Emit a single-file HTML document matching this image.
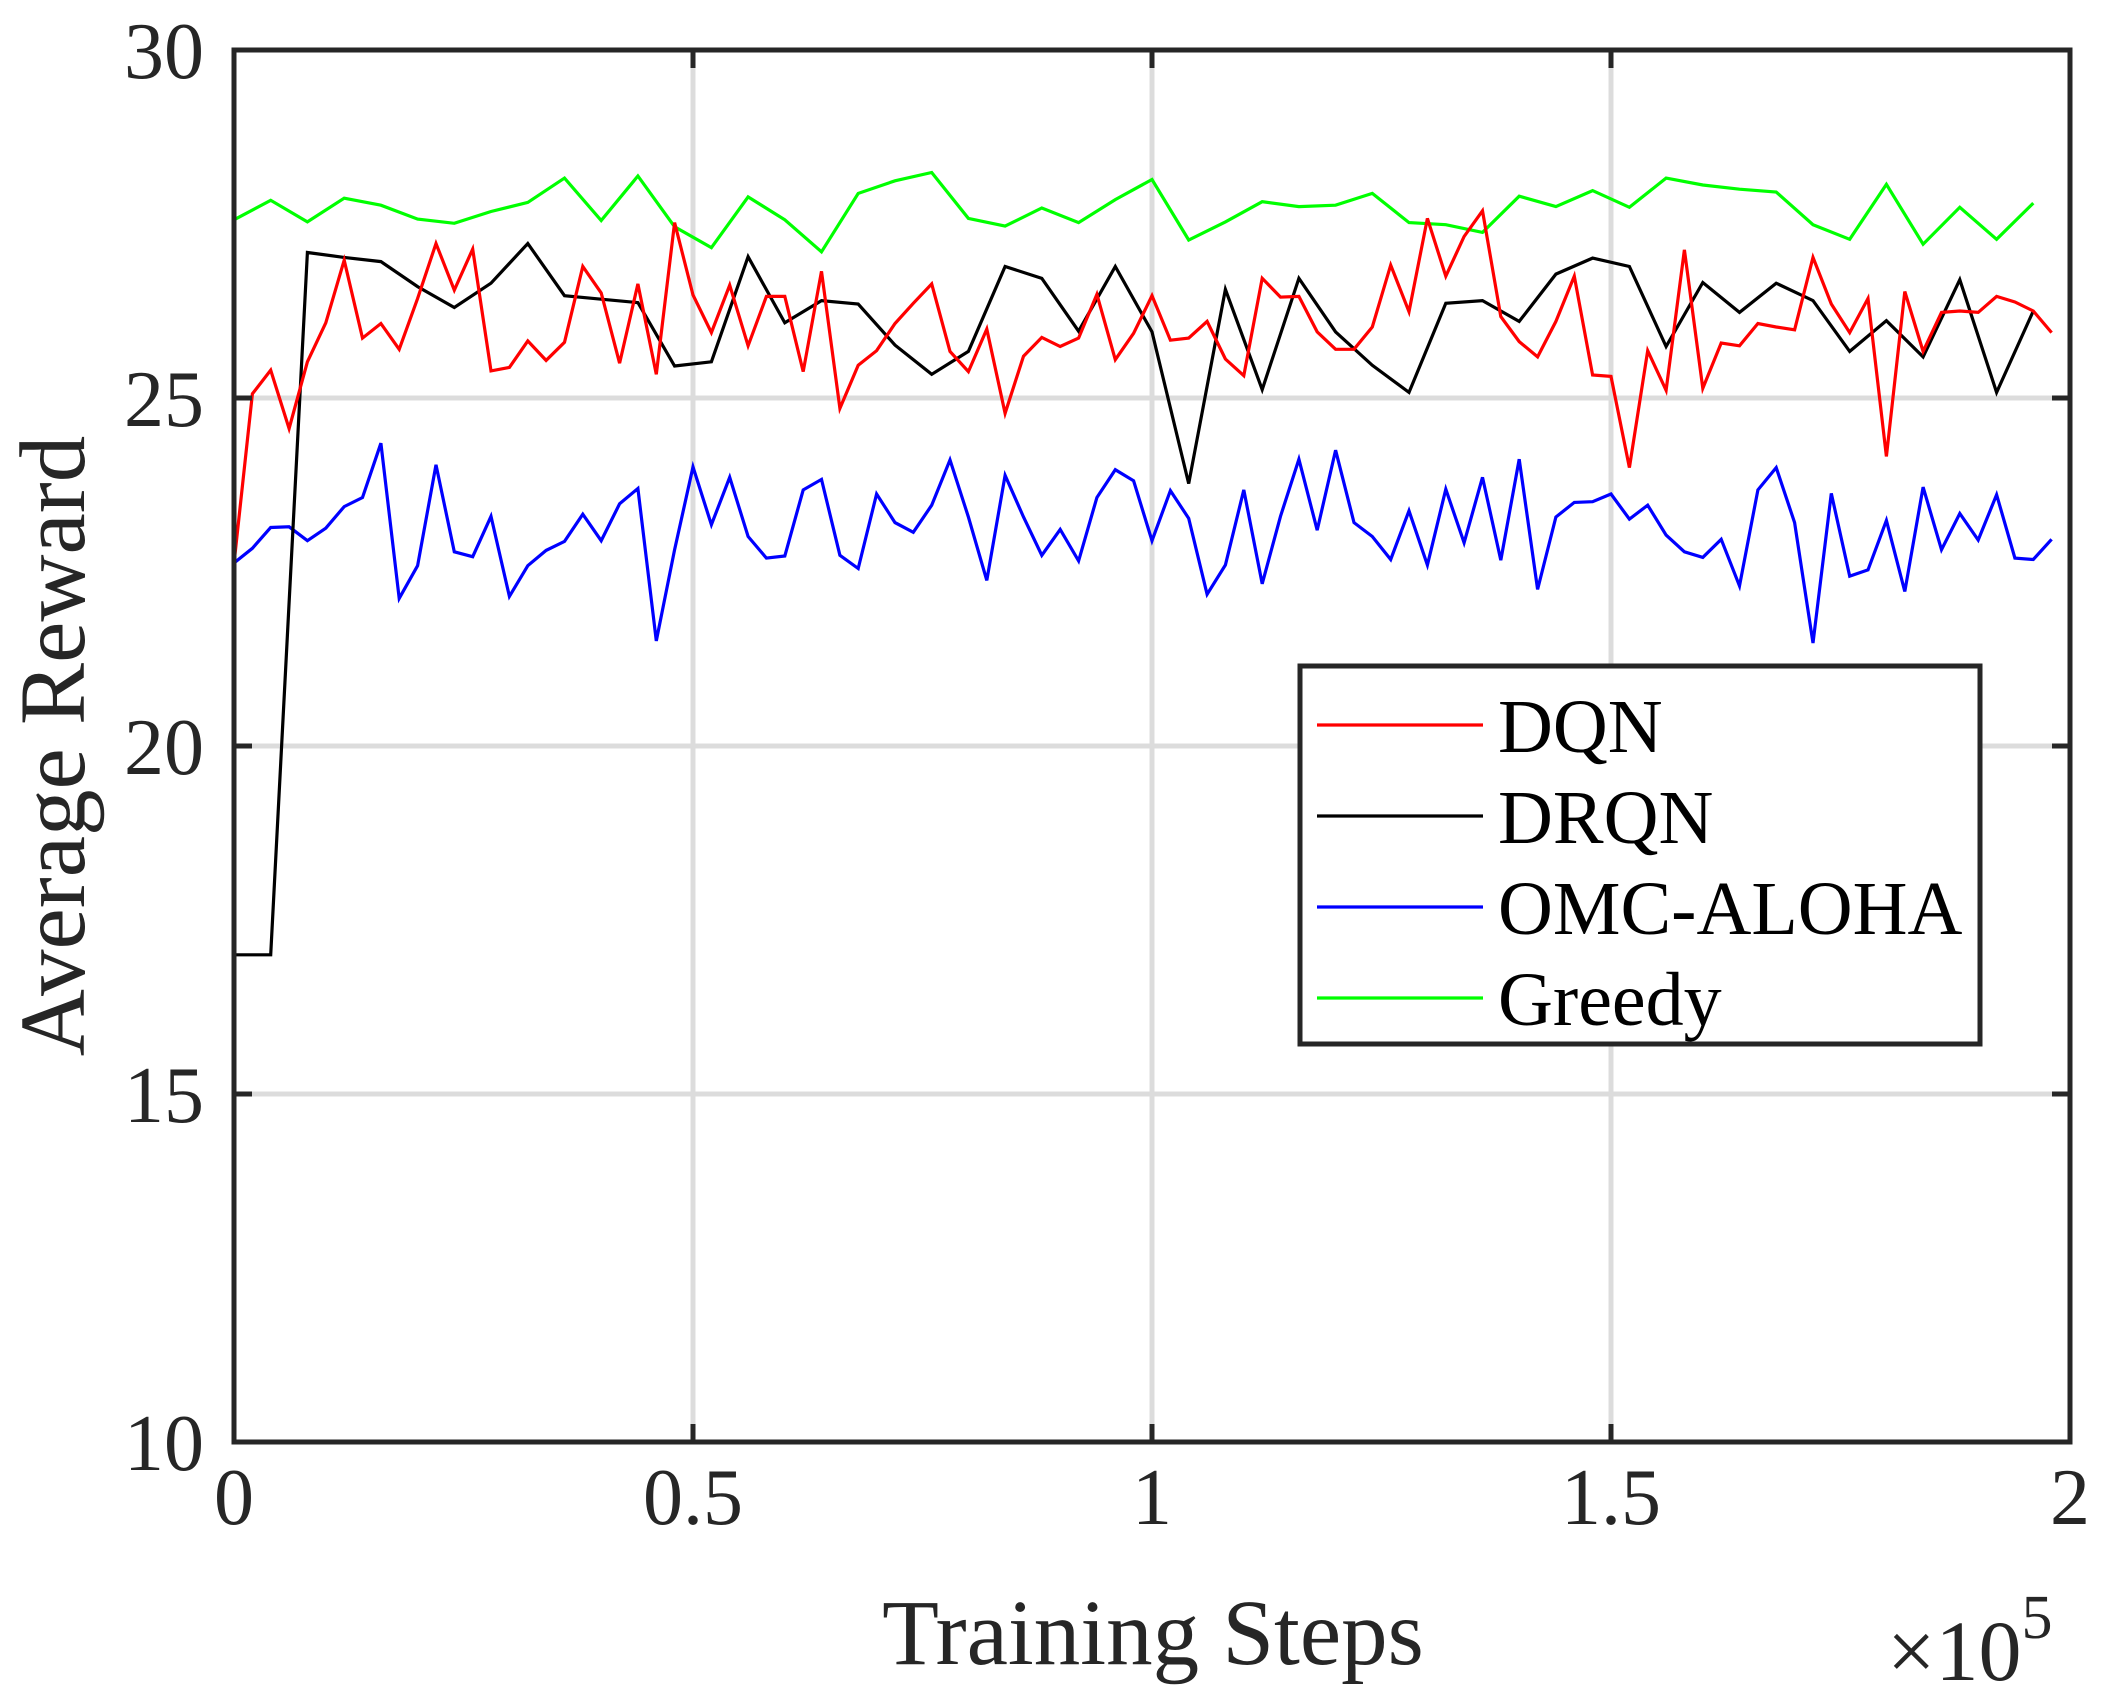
<!DOCTYPE html>
<html><head><meta charset="utf-8"><style>
html,body{margin:0;padding:0;background:#fff;}
svg{display:block;font-family:"Liberation Serif",serif;}
</style></head><body>
<svg id="chart" width="2114" height="1708" viewBox="0 0 2114 1708" xmlns="http://www.w3.org/2000/svg">
<rect width="2114" height="1708" fill="#fff"/>
<g id="grid"></g>
<g id="series"></g>
<g id="axes"></g>
<text x="1153" y="1664" font-size="93" text-anchor="middle" fill="#262626">Training Steps</text>
<text x="1887" y="1680" font-size="86" fill="#262626">×10<tspan dy="-42" font-size="62">5</tspan></text>
<text transform="translate(84,746) rotate(-90)" font-size="93" text-anchor="middle" fill="#262626">Average Reward</text>
<g id="legend"></g>
</svg>
<script>
const yTicks=[10,15,20,25,30];
const xTicks=[0,0.5,1,1.5,2];
const xTickLabels=["0","0.5","1","1.5","2"];
const stepFine=0.02;
const stepCoarse=0.04;
const dqn=[22.62,25.06,25.40,24.56,25.52,26.08,26.98,25.86,26.07,25.70,26.43,27.22,26.55,27.14,25.39,25.44,25.82,25.54,25.80,26.89,26.51,25.50,26.64,25.34,27.52,26.48,25.94,26.62,25.75,26.46,26.46,25.38,26.82,24.85,25.47,25.68,26.07,26.36,26.64,25.67,25.38,25.99,24.78,25.60,25.87,25.74,25.86,26.49,25.55,25.93,26.47,25.83,25.86,26.10,25.56,25.32,26.72,26.45,26.46,25.95,25.70,25.70,26.02,26.91,26.24,27.58,26.75,27.32,27.69,26.17,25.81,25.59,26.10,26.75,25.33,25.31,24.00,25.68,25.11,27.13,25.14,25.79,25.75,26.07,26.02,25.98,27.02,26.35,25.94,26.43,24.16,26.53,25.67,26.23,26.25,26.23,26.46,26.38,26.25,25.94];
const omc=[22.63,22.84,23.14,23.15,22.95,23.13,23.44,23.57,24.35,22.12,22.59,24.04,22.79,22.72,23.30,22.15,22.59,22.81,22.94,23.33,22.95,23.48,23.70,21.51,22.82,24.01,23.18,23.86,23.01,22.70,22.73,23.68,23.83,22.74,22.55,23.62,23.21,23.07,23.46,24.11,23.29,22.38,23.89,23.29,22.74,23.11,22.66,23.57,23.97,23.81,22.95,23.67,23.27,22.18,22.60,23.68,22.33,23.30,24.12,23.10,24.25,23.21,23.01,22.68,23.38,22.60,23.69,22.92,23.86,22.67,24.12,22.25,23.29,23.50,23.51,23.62,23.26,23.46,23.03,22.79,22.71,22.97,22.30,23.68,24.00,23.21,21.48,23.63,22.44,22.53,23.24,22.22,23.72,22.82,23.34,22.96,23.61,22.70,22.68,22.97];
const drqn=[17,17,27.09,27.02,26.96,26.60,26.30,26.65,27.22,26.47,26.42,26.37,25.46,25.52,27.03,26.08,26.40,26.35,25.76,25.34,25.67,26.89,26.72,25.96,26.89,25.95,23.77,26.56,25.12,26.72,25.95,25.47,25.08,26.36,26.40,26.10,26.78,27.01,26.89,25.74,26.66,26.23,26.65,26.40,25.67,26.11,25.59,26.70,25.08,26.25];
const greedy=[27.56,27.84,27.53,27.87,27.77,27.57,27.51,27.68,27.81,28.16,27.55,28.19,27.46,27.16,27.89,27.56,27.10,27.94,28.12,28.24,27.58,27.47,27.73,27.52,27.85,28.14,27.27,27.53,27.82,27.75,27.77,27.94,27.52,27.49,27.38,27.90,27.75,27.98,27.74,28.16,28.06,28.00,27.96,27.49,27.28,28.07,27.21,27.74,27.28,27.80];
const legendNames=["DQN","DRQN","OMC-ALOHA","Greedy"];

const L=234,R=2070,T=50,B=1442;
const sx=v=>L+(v-0)/(2-0)*(R-L);
const sy=v=>B-(v-10)/(30-10)*(B-T);
const NS="http://www.w3.org/2000/svg";
function mk(tag,attrs,parent){const e=document.createElementNS(NS,tag);for(const k in attrs)e.setAttribute(k,attrs[k]);parent.appendChild(e);return e;}
const grid=document.getElementById('grid'),axes=document.getElementById('axes'),ser=document.getElementById('series'),leg=document.getElementById('legend');
xTicks.forEach((t,i)=>{
  if(i>0&&i<xTicks.length-1){const g=mk('line',{x1:sx(t),x2:sx(t),y1:T,y2:B,stroke:'#dcdcdc','stroke-width':5},grid);
  
  }
  const tk=mk('line',{x1:sx(t),x2:sx(t),y1:B,y2:B-18,stroke:'#262626','stroke-width':5},axes);
  
  
  const tk2=mk('line',{x1:sx(t),x2:sx(t),y1:T,y2:T+18,stroke:'#262626','stroke-width':5},axes);
  
  
  const lb=mk('text',{x:sx(t),y:B+82,'font-size':80,'text-anchor':'middle',fill:'#262626'},axes);
  lb.textContent=xTickLabels[i];
  
  
});
yTicks.forEach((t,i)=>{
  if(i>0&&i<yTicks.length-1){const g=mk('line',{x1:L,x2:R,y1:sy(t),y2:sy(t),stroke:'#dcdcdc','stroke-width':5},grid);
  
  }
  const tk=mk('line',{x1:L,x2:L+18,y1:sy(t),y2:sy(t),stroke:'#262626','stroke-width':5},axes);
  
  
  const tk2=mk('line',{x1:R-18,x2:R,y1:sy(t),y2:sy(t),stroke:'#262626','stroke-width':5},axes);
  
  
  const lb=mk('text',{x:L-30,y:sy(t)+28,'font-size':80,'text-anchor':'end',fill:'#262626'},axes);
  lb.textContent=String(t);
  
  
});
const frame=mk('rect',{x:L,y:T,width:R-L,height:B-T,fill:'none',stroke:'#262626','stroke-width':5},axes);


function drawLine(vals,step,color,name){
  const pts=vals.map((v,i)=>sx(i*step).toFixed(1)+','+sy(v).toFixed(1)).join(' ');
  const p=mk('polyline',{points:pts,fill:'none',stroke:color,'stroke-width':3.2,'stroke-linejoin':'miter'},ser);
  
  
}
drawLine(greedy,stepCoarse,'#00ff00','greedy-line');
drawLine(omc,stepFine,'#0000ff','omc-aloha-line');
drawLine(drqn,stepCoarse,'#000000','drqn-line');
drawLine(dqn,stepFine,'#ff0000','dqn-line');
const lbox=mk('rect',{x:1300,y:666,width:680,height:378,fill:'#fff',stroke:'#262626','stroke-width':5},leg);


const colors=['#ff0000','#000000','#0000ff','#00ff00'];
legendNames.forEach((n,i)=>{
  const y=725+i*91;
  const ln=mk('line',{x1:1317,x2:1483,y1:y,y2:y,stroke:colors[i],'stroke-width':3.2},leg);
  
  
  const tx=mk('text',{x:1498,y:y+27,'font-size':76,fill:'#000'},leg);
  tx.textContent=n;
  
  
});
</script>
</body></html>
